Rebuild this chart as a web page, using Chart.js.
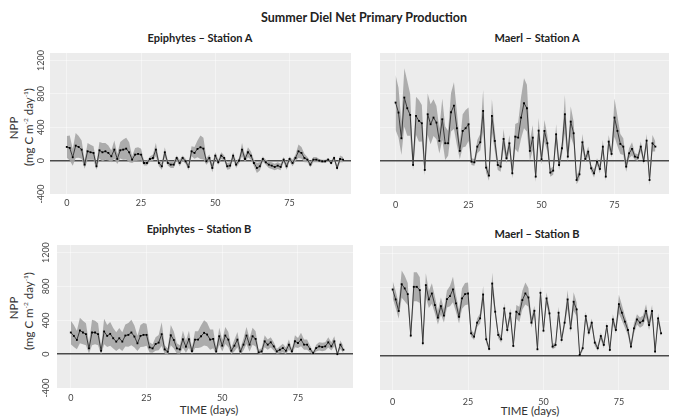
<!DOCTYPE html>
<html>
<head>
<meta charset="utf-8">
<script src="https://cdn.jsdelivr.net/npm/chart.js@4.4.1/dist/chart.umd.min.js"></script>
<style>
  body { margin: 0; background: #fff; width: 673px; height: 417px; overflow: hidden; position: relative; font-family: Lato, "Open Sans", sans-serif; color: #222; }
  canvas { position: absolute; }
  .t { position: absolute; white-space: nowrap; transform: translate(-50%, -50%); }
  .main { font-weight: bold; font-size: 12.5px; }
  .pt { font-weight: bold; font-size: 11px; }
  .xl { font-size: 11.5px; color: #333; }
  .yl { font-size: 11.5px; color: #333; transform: translate(-50%, -50%) rotate(-90deg); }
  sup { font-size: 6.5px; }
</style>
</head>
<body>
<div class="t main" style="left:364px;top:17px">Summer Diel Net Primary Production</div>
<div class="t pt" style="left:200px;top:37px">Epiphytes – Station A</div>
<div class="t pt" style="left:537px;top:37px">Maerl – Station A</div>
<div class="t pt" style="left:199px;top:228px">Epiphytes – Station B</div>
<div class="t pt" style="left:537px;top:233px">Maerl – Station B</div>
<div class="t xl" style="left:209px;top:409px">TIME (days)</div>
<div class="t xl" style="left:530px;top:410px">TIME (days)</div>
<div class="t yl" style="left:13px;top:128px">NPP</div>
<div class="t yl" style="left:28px;top:127px">(mg C m<sup>-2</sup> day<sup>-1</sup>)</div>
<div class="t yl" style="left:13px;top:308px">NPP</div>
<div class="t yl" style="left:28px;top:311px">(mg C m<sup>-2</sup> day<sup>-1</sup>)</div>

<script>
// NPP values per day and half-width of the grey band
const epiA = [164,152,40,180,164,132,-48,112,100,92,-68,124,100,112,92,52,132,20,124,132,144,100,12,72,80,72,-28,-28,20,32,132,-28,-68,100,-28,-48,-48,32,-28,32,-8,-76,112,92,140,160,144,-8,32,-88,60,-20,60,32,-68,-60,60,-48,0,132,20,100,60,-28,-88,-68,20,-20,-48,-60,-76,-60,-76,12,-68,20,-28,32,112,92,32,12,-48,12,12,0,-8,-8,12,-28,32,-88,20,12];
const epiA_ci = [130,150,100,150,130,110,50,100,90,80,40,100,110,100,90,70,110,60,100,120,130,120,40,80,80,70,30,30,30,40,80,40,40,60,30,40,40,30,40,30,30,40,60,70,100,140,130,40,40,50,40,30,40,30,40,40,40,40,30,80,40,60,50,40,60,50,30,30,40,40,40,40,40,30,40,30,40,40,80,70,50,30,30,30,30,20,20,20,20,20,30,30,40,30];

const maerlA = [696,576,268,756,628,548,-52,536,476,448,-112,556,436,516,456,236,496,208,208,580,660,388,116,356,388,436,-12,-20,168,220,596,-84,-180,536,236,-52,-72,260,28,208,-152,288,276,516,688,628,116,276,-192,360,16,356,208,-144,-120,316,-52,148,556,48,468,328,-232,-164,220,20,108,-92,-152,-12,-100,168,-192,228,80,516,356,200,168,-72,88,140,48,36,168,-4,240,-232,208,168];
const maerlA_ci = [330,300,200,350,330,250,60,230,250,220,60,250,240,220,200,150,250,200,150,230,280,200,100,200,220,200,40,40,80,100,250,60,60,200,120,60,60,120,60,100,60,150,180,250,300,280,120,150,60,150,60,130,100,50,50,120,60,80,230,60,180,140,50,60,100,40,60,40,50,40,50,80,50,80,40,230,180,120,100,60,60,80,40,40,60,40,80,60,100,60];

const epiB = [256,216,168,280,256,236,68,256,256,236,40,268,216,240,188,148,188,148,220,228,256,208,128,216,228,228,80,68,120,136,236,56,28,224,168,68,56,176,88,176,36,172,172,212,252,232,172,180,32,212,100,220,172,40,100,172,32,112,220,112,212,180,20,32,152,112,140,92,32,52,72,40,112,32,152,132,172,112,112,60,12,72,92,84,92,140,92,152,0,112,52];
const epiB_ci = [140,130,110,150,140,130,60,150,140,130,50,150,130,140,120,110,120,110,130,140,150,130,90,130,140,130,60,50,80,90,140,50,40,120,100,60,50,100,70,100,40,100,100,130,150,140,120,110,40,100,70,100,90,40,70,90,40,70,100,80,100,90,30,40,70,60,60,50,30,40,50,40,60,30,70,60,80,60,60,40,20,40,50,50,50,60,50,60,20,50,40];

const maerlB = [780,663,527,842,792,725,238,811,811,772,148,831,663,733,597,449,585,472,667,702,780,616,460,675,725,733,265,226,390,441,721,195,82,850,519,246,195,558,304,499,117,519,488,655,733,686,390,530,78,741,296,675,499,109,129,507,187,390,663,324,636,546,12,90,468,273,390,156,90,234,129,351,70,429,304,608,507,402,304,109,324,429,390,413,527,363,527,51,441,265];
const maerlB_ci = [100,100,90,160,150,130,40,170,170,150,40,140,100,120,100,80,100,80,100,120,150,100,80,120,130,130,40,40,50,60,100,40,30,130,60,40,40,60,40,60,30,80,90,110,130,110,60,60,30,70,40,70,60,30,30,70,40,50,110,50,110,80,20,30,50,40,50,40,30,40,40,40,30,60,40,110,90,70,60,40,60,60,60,60,80,60,70,30,60,40];

const xTicks = [0, 25, 50, 75];
const yTicks = [-400, 0, 400, 800, 1200];

const bg = {
  id: 'bg',
  beforeDraw(chart) {
    const a = chart.chartArea, c = chart.ctx;
    c.save();
    c.fillStyle = '#ececec';
    c.fillRect(a.left, a.top, a.right - a.left, a.bottom - a.top);
    c.restore();
  }
};

function panel(p) {
  const cv = document.createElement('canvas');
  const left = p.showY ? 0 : p.plotL;
  const yW = p.plotL - left;
  cv.width = p.plotR - left;
  cv.height = p.plotB - p.plotT + 22;
  cv.style.left = left + 'px';
  cv.style.top = p.plotT + 'px';
  document.body.appendChild(cv);

  const pts = p.vals.map((v, i) => ({x: i, y: v}));
  const hi = p.vals.map((v, i) => ({x: i, y: v + p.ci[i]}));
  const lo = p.vals.map((v, i) => ({x: i, y: v - p.ci[i]}));
  const xMin = (p.plotL - p.x0) / p.dx;
  const xMax = (p.plotR - p.x0) / p.dx;
  const tickFont = {family: 'Lato', size: 9};

  new Chart(cv, {
    type: 'line',
    data: {
      datasets: [
        {data: pts, borderColor: '#3a3a3a', borderWidth: 1, pointStyle: 'rect', pointRadius: 1.3,
         pointBackgroundColor: '#000', pointBorderWidth: 0, fill: false, order: 0},
        {data: hi, borderWidth: 0, pointRadius: 0, backgroundColor: 'rgba(165,165,165,0.9)', fill: '+1', order: 1},
        {data: lo, borderWidth: 0, pointRadius: 0, fill: false, order: 1}
      ]
    },
    options: {
      responsive: false,
      animation: false,
      events: [],
      layout: {padding: 0},
      plugins: {legend: {display: false}, tooltip: {enabled: false}},
      scales: {
        x: {
          type: 'linear', min: xMin, max: xMax,
          afterBuildTicks: s => { s.ticks = xTicks.map(v => ({value: v})); },
          afterFit: s => { s.height = 22; s.paddingLeft = 0; s.paddingRight = 0; },
          grid: {color: 'rgba(255,255,255,0.45)', drawTicks: false},
          border: {display: false},
          ticks: {padding: p.xPad, color: '#444', font: tickFont, maxRotation: 0}
        },
        y: {
          min: -400, max: 1290,
          afterBuildTicks: s => { s.ticks = yTicks.map(v => ({value: v})); },
          afterFit: s => { s.width = yW; s.paddingTop = 0; s.paddingBottom = 0; },
          grid: {
            color: c => c.tick.value === 0 ? '#4a4a4a' : 'rgba(255,255,255,0.45)',
            lineWidth: c => c.tick.value === 0 ? 1.6 : 1,
            drawTicks: false
          },
          border: {display: false},
          ticks: {display: p.showY, minRotation: 90, maxRotation: 90, crossAlign: 'center',
                  padding: p.yPad || 0, color: '#444', font: tickFont,
                  callback: v => String(v)}
        }
      }
    },
    plugins: [bg]
  });
}

panel({vals: epiA, ci: epiA_ci, showY: true, plotL: 50, plotT: 49, plotR: 355, plotB: 194, x0: 67, dx: 3.01, xPad: 4, yPad: -2});
panel({vals: maerlA, ci: maerlA_ci, showY: false, plotL: 376, plotT: 49, plotR: 673, plotB: 194, x0: 392, dx: 3.0, xPad: 6});
panel({vals: epiB, ci: epiB_ci, showY: true, plotL: 57, plotT: 241, plotR: 357, plotB: 388, x0: 71, dx: 3.07, xPad: 5, yPad: 0});
panel({vals: maerlB, ci: maerlB_ci, showY: false, plotL: 376, plotT: 242, plotR: 673, plotB: 390, x0: 389, dx: 3.1, xPad: 7});
</script>
</body>
</html>
